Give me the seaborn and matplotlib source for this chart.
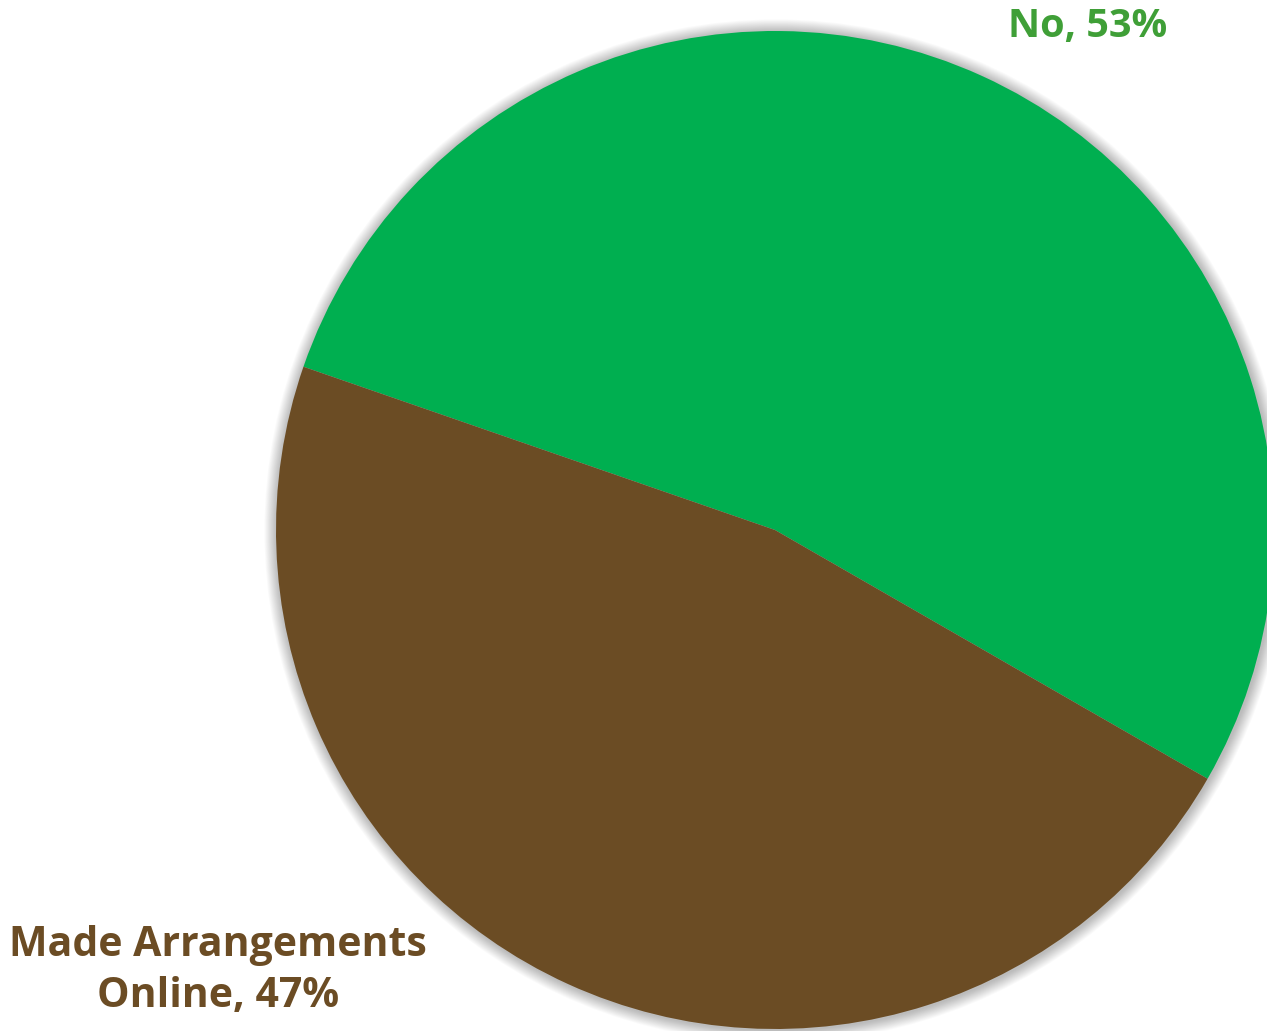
import matplotlib
matplotlib.use("Agg")
import matplotlib.pyplot as plt
import seaborn as sns
from matplotlib.patches import Circle

sns.set_theme(style="white")
plt.rcParams["font.family"] = ["Open Sans", "DejaVu Sans"]

# Survey answers
categories = ["No", "Made Arrangements Online"]
shares = [53, 47]
slice_colors = ["#00AF50", "#6B4C24"]
label_colors = ["#3F9F37", "#6B4C24"]

W, H = 1267, 1031
fig = plt.figure(figsize=(W / 100, H / 100), dpi=100)
ax = fig.add_axes([0, 0, 1, 1])
ax.set_xlim(0, W)
ax.set_ylim(0, H)
ax.set_aspect("equal")
ax.axis("off")

cx, cy, r = 775, H - 530, 499

# soft shadow around the pie
for k in range(14, 0, -1):
    ax.add_patch(Circle((cx + 1, cy - 1), r + k * 0.9, color="black",
                        alpha=0.02, lw=0, zorder=1))

ax.pie(shares, colors=slice_colors, startangle=160.9, counterclock=False,
       center=(cx, cy), radius=r, frame=True,
       wedgeprops=dict(linewidth=0, zorder=2))
ax.set_xlim(0, W)
ax.set_ylim(0, H)
ax.axis("off")

ax.text(1088, H - 27, f"{categories[0]}, {shares[0]}%", color=label_colors[0],
        fontsize=28.5, fontweight="bold", ha="center", va="center")
ax.text(218, H - 971, f"Made Arrangements\nOnline, {shares[1]}%",
        color=label_colors[1], fontsize=29.5, fontweight="bold",
        ha="center", va="center", linespacing=1.3)

fig.savefig("out.png", dpi=100)
